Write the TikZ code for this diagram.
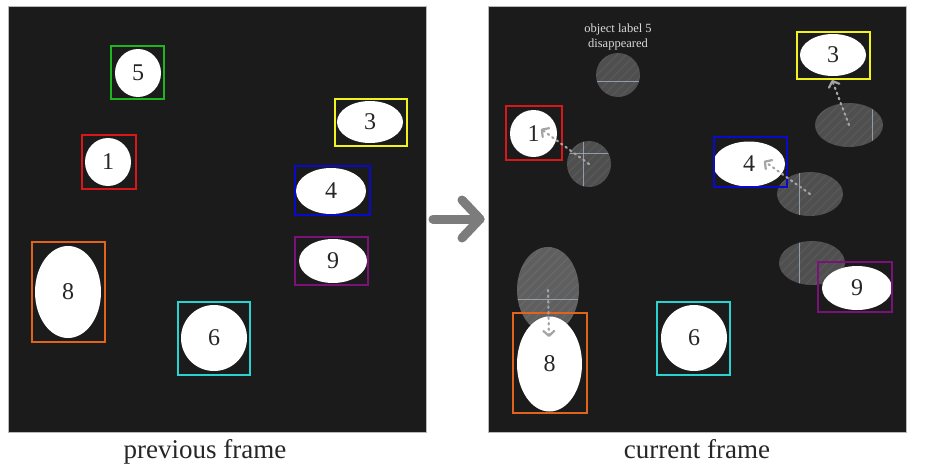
\documentclass[tikz,border=0pt]{standalone}
\usepackage{fontspec}
\setmainfont{Liberation Serif}
\usetikzlibrary{shapes.geometric,arrows.meta}
\definecolor{panelbg}{HTML}{1B1B1B}
\definecolor{boxgreen}{HTML}{1FB51F}
\definecolor{boxred}{HTML}{D81818}
\definecolor{boxyellow}{HTML}{F2F21E}
\definecolor{boxblue}{HTML}{0A0ACC}
\definecolor{boxpurple}{HTML}{7A127A}
\definecolor{boxorange}{HTML}{E0651A}
\definecolor{boxcyan}{HTML}{2AD2D2}
\definecolor{crosscol}{HTML}{A9B6C4}
\definecolor{arrowgray}{HTML}{7C7C7C}
\definecolor{trackgray}{HTML}{A4A4A4}
\begin{document}
\begin{tikzpicture}[x=1pt,y=-1pt,
  panel/.style={fill=panelbg,draw=gray!55,line width=0.8pt},
  obj/.style 2 args={ellipse,fill=white,inner sep=0pt,outer sep=0pt,
    minimum width=#1,minimum height=#2,text=black!85,
    font=\fontsize{24}{24}\selectfont},
  bbox/.style n args={3}{rectangle,draw=#3,line width=2.4pt,inner sep=0pt,
    minimum width=#1,minimum height=#2},
  crossline/.style={draw=crosscol,opacity=0.75,line width=1pt},
  % ghost: width, height, x offset of vertical line, y offset of horizontal line
  ghost/.style n args={4}{ellipse,inner sep=0pt,outer sep=0pt,
    minimum width=#1,minimum height=#2,fill=white,fill opacity=0.23,
    path picture={
      \foreach \k in {-120,-111,...,120}{
        \draw[white,opacity=0.06,line width=1.2pt]
          ([shift={(\k-70,70)}]path picture bounding box.center) --
          ([shift={(\k+70,-70)}]path picture bounding box.center);}
      \draw[crossline] ([xshift=#3]path picture bounding box.north) --
        ([xshift=#3]path picture bounding box.south);
      \draw[crossline] ([yshift=#4]path picture bounding box.west) --
        ([yshift=#4]path picture bounding box.east);
    }},
  track/.style={draw=trackgray,line width=2.2pt,dash pattern=on 1.5pt off 4pt,
    line cap=round,
    -{Straight Barb[length=5pt,width=11pt,line cap=round,line join=round]}},
  mainarrow/.style={draw=arrowgray,line width=9pt,line cap=round,line join=round},
  caption/.style={anchor=base,font=\fontsize{27}{27}\selectfont,text=black!85}
]
\useasboundingbox (0,0) rectangle (929,466);
\fill[white] (0,0) rectangle (929,466);

% the two frames
\path[panel] (8,6) rectangle (426,432);
\path[panel] (488,6) rectangle (906,432);

% ---------- previous frame ----------
\node[obj={46}{48}] (p5) at (138,73) {5};
\node[bbox={53}{53}{boxgreen}] (p5b) at (137.5,72.5) {};
\node[obj={66}{42}] (p3) at (370,122) {3};
\node[bbox={72}{47}{boxyellow}] (p3b) at (371,122.5) {};
\node[obj={46}{48}] (p1) at (108,162) {1};
\node[bbox={54}{54}{boxred}] (p1b) at (109,162) {};
\node[obj={70}{46}] (p4) at (331,191) {4};
\node[bbox={75}{49}{boxblue}] (p4b) at (332.5,190.5) {};
\node[obj={68}{44}] (p9) at (333,261) {9};
\node[bbox={73}{48}{boxpurple}] (p9b) at (331.5,261) {};
\node[obj={66}{92}] (p8) at (68,292) {8};
\node[bbox={73}{100}{boxorange}] (p8b) at (68.5,292) {};
\node[obj={66}{66}] (p6) at (214,338) {6};
\node[bbox={72}{73}{boxcyan}] (p6b) at (214,338.5) {};

% ---------- current frame: positions of the previous frame ----------
\node[ghost={44}{44}{999}{-6}] (g5) at (618,75) {};
\node[ghost={44}{46}{-6}{11}] (g1) at (589,164) {};
\node[ghost={68}{44}{23}{999}] (g3) at (849,125) {};
\node[ghost={66}{44}{-11}{999}] (g4) at (810,194) {};
\node[ghost={66}{44}{-13}{999}] (g9) at (812,263) {};
\node[ghost={62}{86}{999}{-9}, fill opacity=0.3] (g8) at (548,290) {};

\node[align=center,text=white!85!black,font=\fontsize{12.5}{14.5}\selectfont]
  (lost) at (618,37) {object label 5\\disappeared};

% ---------- current frame: tracked objects ----------
\node[obj={47}{47}] (c1) at (533.5,133.5) {1};
\node[bbox={56}{54}{boxred}] (c1b) at (534,133) {};
\node[obj={66}{42}] (c3) at (833,55) {3};
\node[bbox={73}{47}{boxyellow}] (c3b) at (833.5,55.5) {};
\node[obj={72}{45}] (c4) at (749,164) {4};
\node[bbox={73}{50}{boxblue}] (c4b) at (750.5,162) {};
\node[obj={70}{44}] (c9) at (857,288) {9};
\node[bbox={74}{50}{boxpurple}] (c9b) at (855,287) {};
\node[obj={65}{95}] (c8) at (549.5,364) {8};
\node[bbox={74}{100}{boxorange}] (c8b) at (550,363) {};
\node[obj={66}{66}] (c6) at (694,338) {6};
\node[bbox={73}{73}{boxcyan}] (c6b) at (693.5,338.5) {};

% motion of each object
\coordinate (t1) at (541,129);
\coordinate (t3) at (832,80);
\coordinate (t4) at (764,161);
\coordinate (t8) at (549,337);
\draw[track] (g1.center) -- (t1);
\draw[track] (g3.center) -- (t3);
\draw[track] (g4.center) -- (t4);
\draw[track] (g8.center) -- (t8);

% arrow from the previous to the current frame
\coordinate (ma) at (433,219);
\coordinate (mb) at (480,219);
\draw[mainarrow] (ma) -- (mb);
\draw[mainarrow] ([shift={(-18,-19)}]mb) -- (mb) -- ([shift={(-18,19)}]mb);

% captions
\node[caption] (cap1) at (205,458) {previous frame};
\node[caption] (cap2) at (697,458) {current frame};
\end{tikzpicture}
\end{document}
